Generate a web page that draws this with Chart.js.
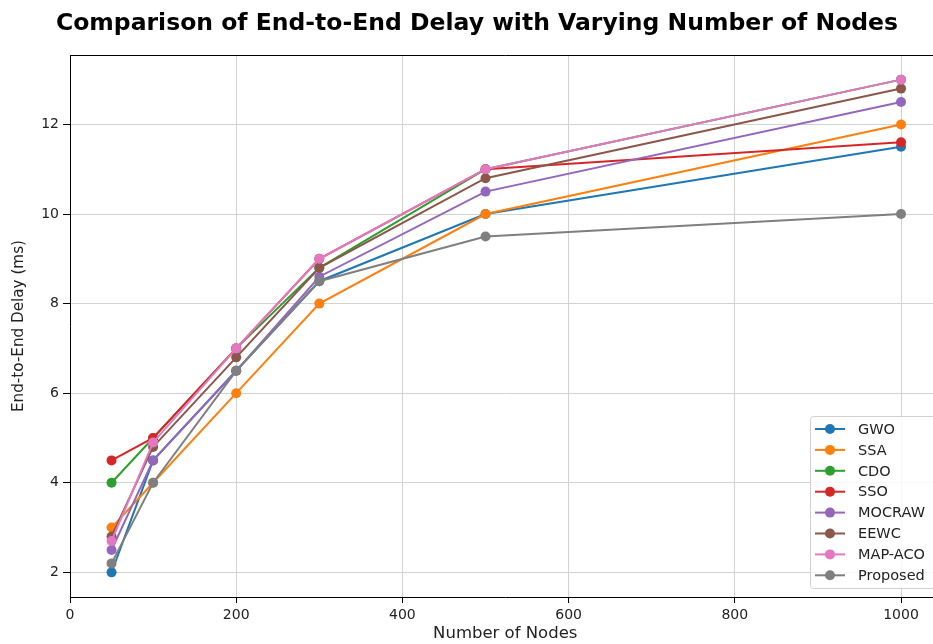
<!DOCTYPE html>
<html>
<head>
<meta charset="utf-8">
<script src="https://cdn.jsdelivr.net/npm/chart.js@4.4.1/dist/chart.umd.min.js"></script>
<style>
html,body{margin:0;padding:0;background:#fff;overflow:hidden;width:933px;height:644px;}
canvas{display:block;}
</style>
</head>
<body>
<canvas id="c" width="948" height="644"></canvas>
<script>
const titleText = "Comparison of End-to-End Delay with Varying Number of Nodes";
const xLabel = "Number of Nodes";
const yLabel = "End-to-End Delay (ms)";
const nodes = [50, 100, 200, 300, 500, 1000];
const seriesNames = ["GWO", "SSA", "CDO", "SSO", "MOCRAW", "EEWC", "MAP-ACO", "Proposed"];
const gwo      = [2.0, 4.5, 6.5, 8.5, 10.0, 11.5];
const ssa      = [3.0, 4.0, 6.0, 8.0, 10.0, 12.0];
const cdo      = [4.0, 5.0, 7.0, 8.8, 11.0, 13.0];
const sso      = [4.5, 5.0, 7.0, 9.0, 11.0, 11.6];
const mocraw   = [2.5, 4.5, 6.5, 8.6, 10.5, 12.5];
const eewc     = [2.8, 4.8, 6.8, 8.8, 10.8, 12.8];
const mapaco   = [2.7, 4.9, 7.0, 9.0, 11.0, 13.0];
const proposed = [2.2, 4.0, 6.5, 8.5, 9.5, 10.0];
const xTicks = [0, 200, 400, 600, 800, 1000];
const yTicks = [2, 4, 6, 8, 10, 12];

const colors = ["#1f77b4", "#ff7f0e", "#2ca02c", "#d62728", "#9467bd", "#8c564b", "#e377c2", "#7f7f7f"];
const allSeries = [gwo, ssa, cdo, sso, mocraw, eewc, mapaco, proposed];
const FONT = "'DejaVu Sans', sans-serif";

const datasets = allSeries.map((vals, i) => ({
  label: seriesNames[i],
  data: nodes.map((n, j) => ({x: n, y: vals[j]})),
  borderColor: colors[i],
  backgroundColor: colors[i],
  borderWidth: 2,
  pointRadius: 5,
  pointBorderWidth: 0,
  pointHoverRadius: 5,
  tension: 0,
  order: allSeries.length - i
}));

const framePlugin = {
  id: 'frame',
  afterDraw(chart) {
    const ctx = chart.ctx, a = chart.chartArea;
    ctx.save();
    ctx.strokeStyle = '#000';
    ctx.lineWidth = 1;
    ctx.beginPath();
    ctx.moveTo(a.left, Math.round(a.top) + 0.5);
    ctx.lineTo(a.right, Math.round(a.top) + 0.5);
    ctx.stroke();
    ctx.fillStyle = '#000';
    ctx.font = "bold 23.5px " + FONT;
    ctx.textAlign = 'center';
    ctx.textBaseline = 'middle';
    ctx.fillText(titleText, 477, 24);
    const lx = 810, ly = 416, lw = 140, lh = 172;
    ctx.fillStyle = 'rgba(255,255,255,0.85)';
    ctx.strokeStyle = '#d0d0d0';
    ctx.lineWidth = 1;
    ctx.beginPath();
    ctx.roundRect(lx + 0.5, ly + 0.5, lw, lh, 3);
    ctx.fill();
    ctx.stroke();
    ctx.font = "14.5px " + FONT;
    ctx.textAlign = 'left';
    chart.data.datasets.forEach((ds, i) => {
      const y = 429 + i * 20.9;
      ctx.strokeStyle = ds.borderColor;
      ctx.lineWidth = 2;
      ctx.beginPath();
      ctx.moveTo(815, y);
      ctx.lineTo(845, y);
      ctx.stroke();
      ctx.fillStyle = ds.borderColor;
      ctx.beginPath();
      ctx.arc(830, y, 5, 0, Math.PI * 2);
      ctx.fill();
      ctx.fillStyle = '#222';
      ctx.fillText(ds.label, 858, y + 1);
    });
    ctx.restore();
  }
};

new Chart(document.getElementById('c'), {
  type: 'line',
  data: { datasets },
  options: {
    responsive: false,
    animation: false,
    events: [],
    layout: { padding: { top: 55, right: 7.5, left: 0, bottom: 0 } },
    plugins: { legend: { display: false }, title: { display: false }, tooltip: { enabled: false } },
    scales: {
      x: {
        type: 'linear',
        min: 0,
        max: 1047.5,
        afterBuildTicks: s => { s.ticks = xTicks.map(v => ({value: v})); },
        afterFit: s => { s.height = 47; },
        grid: { color: '#d2d2d2', lineWidth: 1, tickColor: '#000', tickLength: 6 },
        border: { color: '#000', width: 1 },
        ticks: { color: '#222', font: { family: FONT, size: 14 }, padding: 4, maxRotation: 0, callback: v => String(v) },
        title: { display: true, text: xLabel, color: '#222', font: { family: FONT, size: 16.5 }, padding: { top: 0, bottom: 0 } }
      },
      y: {
        type: 'linear',
        min: 1.45,
        max: 13.55,
        afterBuildTicks: s => { s.ticks = yTicks.map(v => ({value: v})); },
        afterFit: s => { s.width = 70; },
        grid: { color: '#d2d2d2', lineWidth: 1, tickColor: '#000', tickLength: 7 },
        border: { color: '#000', width: 1 },
        ticks: { color: '#222', font: { family: FONT, size: 14 }, padding: 4, callback: v => String(v) },
        title: { display: true, text: yLabel, color: '#222', font: { family: FONT, size: 15.2 }, padding: { top: 10, bottom: 0 } }
      }
    }
  },
  plugins: [framePlugin]
});
</script>
</body>
</html>
